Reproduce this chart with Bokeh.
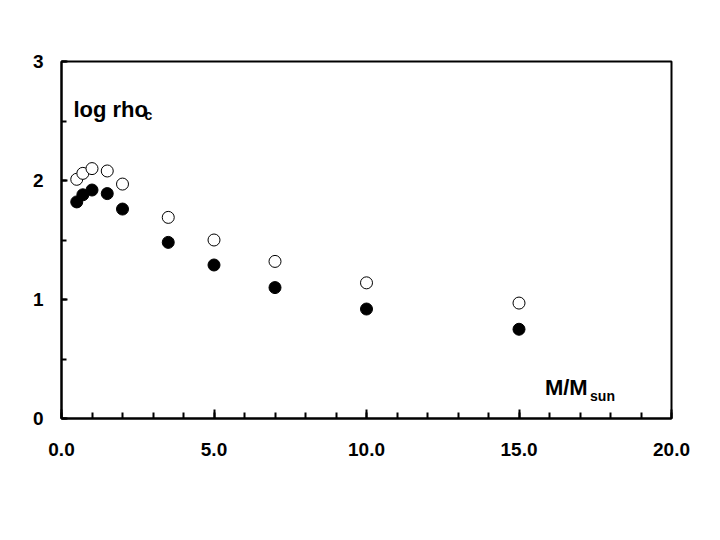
from bokeh.plotting import figure
from bokeh.models import Range1d, Label, FixedTicker, CustomJSTickFormatter
from bokeh.embed import file_html
from bokeh.resources import INLINE

# data
mass = [0.5, 0.7, 1.0, 1.5, 2.0, 3.5, 5.0, 7.0, 10.0, 15.0]
log_rho_filled = [1.82, 1.88, 1.92, 1.89, 1.76, 1.48, 1.29, 1.10, 0.92, 0.75]
log_rho_open = [2.01, 2.06, 2.10, 2.08, 1.97, 1.69, 1.50, 1.32, 1.14, 0.97]
x_ticks = [0, 5, 10, 15, 20]
y_ticks = [0, 1, 2, 3]

FONT = "Liberation Sans"

p = figure(width=704, height=524, output_backend="svg", toolbar_location=None,
           x_range=Range1d(0, 20), y_range=Range1d(0, 3),
           min_border_left=61, min_border_right=33, min_border_top=61,
           min_border_bottom=106)
p.grid.visible = False
p.background_fill_color = "white"
p.border_fill_color = "white"
p.outline_line_color = "black"
p.outline_line_width = 2

p.xaxis.ticker = FixedTicker(ticks=x_ticks, minor_ticks=list(range(0, 21)))
p.yaxis.ticker = FixedTicker(ticks=y_ticks, minor_ticks=[0, 0.5, 1, 1.5, 2, 2.5, 3])
p.xaxis.formatter = CustomJSTickFormatter(code="return tick.toFixed(1);")
p.yaxis.formatter = CustomJSTickFormatter(code="return tick.toFixed(0);")

for ax in (p.xaxis[0], p.yaxis[0]):
    ax.axis_line_color = "black"
    ax.axis_line_width = 2
    ax.major_tick_line_color = "black"
    ax.major_tick_line_width = 2
    ax.minor_tick_line_color = "black"
    ax.minor_tick_line_width = 2
    ax.major_tick_out = 0
    ax.minor_tick_out = 0
    ax.major_label_text_font = FONT
    ax.major_label_text_font_style = "bold"
    ax.major_label_text_font_size = "19px"
    ax.major_label_text_color = "black"

p.xaxis.major_tick_in = 9
p.xaxis.minor_tick_in = 6
p.yaxis.major_tick_in = 6
p.yaxis.minor_tick_in = 5
p.xaxis.major_label_standoff = 24
p.yaxis.major_label_standoff = 18

p.scatter(mass, log_rho_open, size=12, marker="circle", fill_color="white",
          line_color="black", line_width=1)
p.scatter(mass, log_rho_filled, size=12, marker="circle", fill_color="black",
          line_color="black", line_width=1)

def lab(x, y, text, size):
    p.add_layout(Label(x=x, y=y, text=text, text_font=FONT, text_font_style="bold",
                       text_font_size=size, text_color="black",
                       text_baseline="alphabetic", text_align="left"))

lab(0.39, 2.60, "log rho", "22px")
lab(2.72, 2.55, "c", "14px")
lab(15.85, 0.26, "M/M", "22px")
lab(17.33, 0.19, "sun", "14px")

open("out.html", "w").write(file_html(p, INLINE))
